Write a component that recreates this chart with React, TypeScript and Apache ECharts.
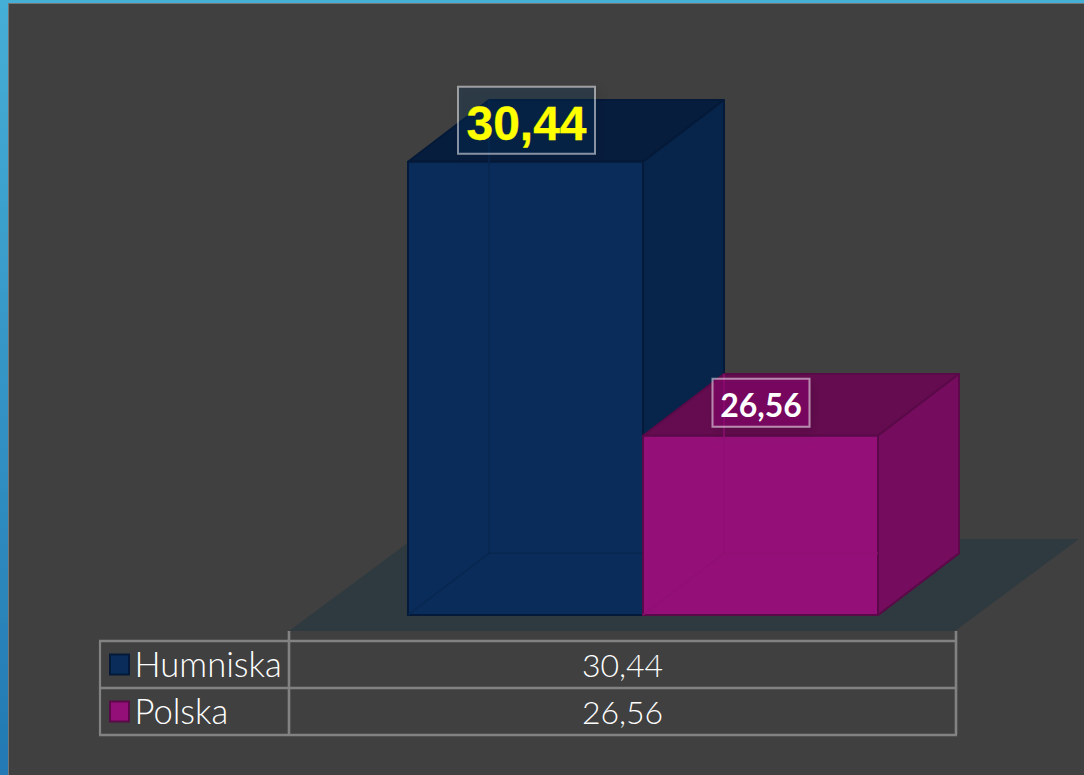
import React, { useEffect, useRef } from "react";
import * as echarts from "echarts";

const categories = ["Humniska", "Polska"];
const values = [30.44, 26.56];
const valueLabels = ["30,44", "26,56"];
const axisMin = 24.02;
const axisMax = 31.02;

const palette = [
  { front: "#092c5b", top: "#071d3e", side: "#07244b", edge: "#051a38", hidden: "#08274f", box: "rgba(9,44,91,0.25)" },
  { front: "#941078", top: "#650c50", side: "#760c5e", edge: "#5a0a48", hidden: "#900f75", box: "rgba(148,16,120,0.4)" },
];
const labelStyles = [
  { font: "bold 48px 'Liberation Sans', Arial, sans-serif", color: "#ffff00", w: 137, h: 67, dx: 50, dy: -75, ty: 3, sw: 0.3 },
  { font: "bold 32px Lato, sans-serif", color: "#ffffff", w: 97, h: 48, dx: 69.5, dy: -57, ty: 1.5, sw: 0 },
];

const W = 1084;
const H = 775;
const gridLeft = 408;
const gridRight = 878;
const gridBottom = 615;
const gridTop = 120.8;
const depthX = 81;
const depthY = -61.7;

const renderBar = (index: number) => (_params: any, api: any) => {
  const c = palette[index];
  const top = api.coord([api.value(0), api.value(1)]);
  const base = api.coord([api.value(0), axisMin]);
  const band = api.size([1, 0])[0];
  const l = top[0] - band / 2;
  const r = top[0] + band / 2;
  const t = top[1];
  const b = base[1];
  const dx = depthX;
  const dy = depthY;
  const st = { stroke: c.edge, lineWidth: 2, lineJoin: "round" };
  const poly = (points: number[][], fill: string) => ({
    type: "polygon",
    shape: { points },
    style: { fill, ...st },
  });
  const line = (x1: number, y1: number, x2: number, y2: number) => ({
    type: "line",
    shape: { x1, y1, x2, y2 },
    style: { stroke: c.hidden, lineWidth: 1.5 },
  });
  const ls = labelStyles[index];
  const bx = l + ls.dx;
  const by = t + ls.dy;
  return {
    type: "group",
    children: [
      poly([[l, b], [l + dx, b + dy], [r + dx, b + dy], [r, b]], c.front),
      poly([[l, t], [l + dx, t + dy], [r + dx, t + dy], [r, t]], c.top),
      poly([[r, t], [r + dx, t + dy], [r + dx, b + dy], [r, b]], c.side),
      poly([[l, t], [r, t], [r, b], [l, b]], c.front),
      line(l + dx, t + dy, l + dx, b + dy),
      line(l + dx, b + dy, r, b + dy),
      line(l, b, l + dx, b + dy),
      {
        type: "rect",
        shape: { x: bx, y: by, width: ls.w, height: ls.h },
        style: {
          fill: c.box,
          stroke: "rgba(255,255,255,0.5)",
          lineWidth: 2,
          shadowColor: "rgba(0,0,0,0.3)",
          shadowBlur: 12,
          shadowOffsetX: 3,
          shadowOffsetY: 3,
        },
      },
      {
        type: "text",
        style: {
          x: bx + ls.w / 2,
          y: by + ls.h / 2 + ls.ty,
          text: valueLabels[index],
          font: ls.font,
          fill: ls.color,
          stroke: ls.sw ? ls.color : undefined,
          lineWidth: ls.sw,
          align: "center",
          verticalAlign: "middle",
        },
      },
    ],
  };
};

const tableX = [100, 289, 956];
const tableY = [641, 688, 735];
const lineColor = "#828282";
const textColor = "#ffffff";
const nameFont = "300 34.6px Lato, sans-serif";
const valueFont = "300 32px Lato, sans-serif";

const hline = (y: number) => ({
  type: "line",
  shape: { x1: tableX[0] - 1, y1: y, x2: tableX[2] + 1, y2: y },
  style: { stroke: lineColor, lineWidth: 2.4 },
});
const vline = (x: number, y1: number, y2: number, w: number) => ({
  type: "line",
  shape: { x1: x, y1, x2: x, y2 },
  style: { stroke: lineColor, lineWidth: w },
});

function buildGraphics() {
  const els: any[] = [
    {
      type: "rect",
      shape: { x: 0, y: 0, width: W, height: H },
      style: {
        fill: {
          type: "linear",
          x: 0,
          y: 0,
          x2: 0,
          y2: 1,
          colorStops: [
            { offset: 0, color: "#46afd6" },
            { offset: 1, color: "#2279b3" },
          ],
        },
      },
    },
    { type: "rect", shape: { x: 8, y: 3, width: W - 8, height: H - 3 }, style: { fill: "#757575" } },
    { type: "rect", shape: { x: 9, y: 4, width: W - 9, height: H - 4 }, style: { fill: "#404040" } },
    {
      type: "polygon",
      shape: { points: [[289, 631], [955, 631], [1079, 539], [413, 539]] },
      style: { fill: "#2f3a40" },
    },
    hline(tableY[0]),
    hline(tableY[1]),
    hline(tableY[2]),
    vline(tableX[0], tableY[0], tableY[2], 2.2),
    vline(tableX[1], 631, tableY[2], 2.6),
    vline(tableX[2], 631, tableY[2], 2.6),
  ];
  categories.forEach((name, i) => {
    const mid = (tableY[i] + tableY[i + 1]) / 2;
    els.push({
      type: "rect",
      shape: { x: 110, y: mid - 10, width: 19, height: 20 },
      style: { fill: palette[i].front, stroke: palette[i].edge, lineWidth: 2 },
    });
    els.push({
      type: "text",
      style: {
        x: 134.5,
        y: mid - 1.5,
        text: name,
        font: nameFont,
        fill: textColor,
        verticalAlign: "middle",
      },
    });
    els.push({
      type: "text",
      style: {
        x: (tableX[1] + tableX[2]) / 2,
        y: mid,
        text: valueLabels[i],
        font: valueFont,
        fill: textColor,
        align: "center",
        verticalAlign: "middle",
      },
    });
  });
  return els;
}

export default function App() {
  const ref = useRef<HTMLDivElement>(null);
  useEffect(() => {
    document.body.style.margin = "0";
    const chart = echarts.init(ref.current!, undefined, { renderer: "svg", width: W, height: H });
    chart.setOption({
      animation: false,
      grid: { left: gridLeft, top: gridTop, width: gridRight - gridLeft, height: gridBottom - gridTop },
      xAxis: { type: "category", data: categories, show: false },
      yAxis: { type: "value", min: axisMin, max: axisMax, show: false },
      graphic: { elements: buildGraphics() },
      series: categories.map((name, i) => ({
        type: "custom",
        name,
        z: 10,
        clip: false,
        renderItem: renderBar(i),
        encode: { x: 0, y: 1 },
        data: [[i, values[i]]],
      })),
    });
    return () => chart.dispose();
  }, []);
  return <div ref={ref} style={{ width: W, height: H, display: "block" }} />;
}
